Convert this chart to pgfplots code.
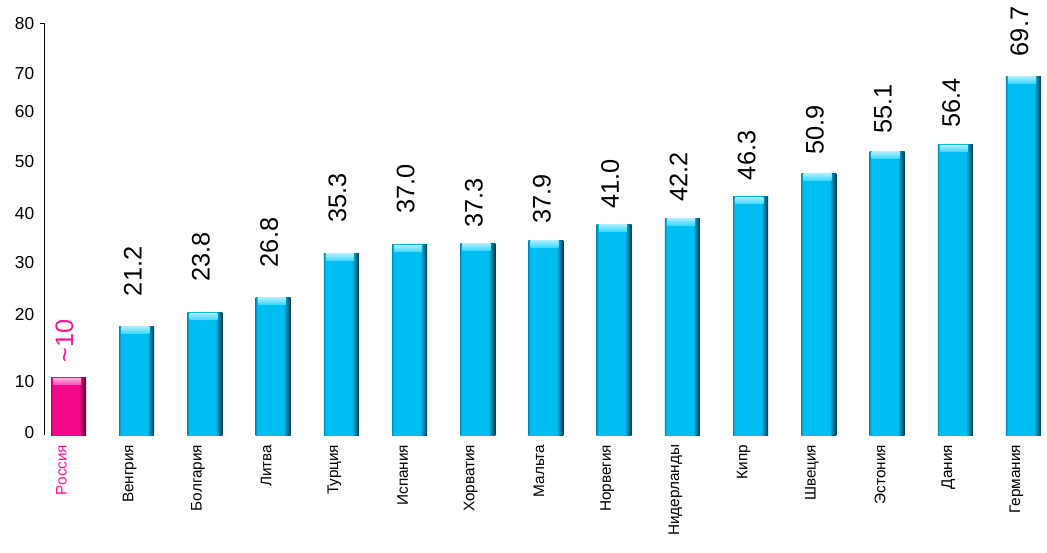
\documentclass[border=0pt]{standalone}
\usepackage{pgfplots}
\pgfplotsset{compat=1.18}
\usepackage{pgfplotstable}
\usepackage{fontspec}
\setmainfont{Liberation Sans}
\definecolor{cyanbody}{HTML}{00BEF2}
\definecolor{cyantop}{HTML}{3DD8FF}
\definecolor{cyandark}{HTML}{003A4E}
\definecolor{cyanleft}{HTML}{0090C0}
\definecolor{magbody}{HTML}{F5088A}
\definecolor{magtop}{HTML}{FF4CB0}
\definecolor{magdark}{HTML}{540030}
\definecolor{magleft}{HTML}{C0006A}
\definecolor{rustext}{HTML}{FF1493}

\pgfdeclarehorizontalshading{cyanbar}{100bp}{color(0bp)=(cyanleft); color(25bp)=(cyanleft); color(27.5bp)=(cyanbody); color(65bp)=(cyanbody); color(75bp)=(cyandark); color(100bp)=(cyandark)}
\pgfdeclarehorizontalshading{magbar}{100bp}{color(0bp)=(magleft); color(25bp)=(magleft); color(27.5bp)=(magbody); color(65bp)=(magbody); color(75bp)=(magdark); color(100bp)=(magdark)}

\tikzset{bevelband/.style={anchor=north, inner sep=0pt, rectangle, minimum width=21pt, minimum height=5pt, xshift=-1pt}}

\pgfplotstableread{
x y lab off
1 21.2 21.2 22.5
2 23.8 23.8 23.0
3 26.8 26.8 22.5
4 35.3 35.3 23.0
5 37.0 37.0 23.0
6 37.3 37.3 11.5
7 37.9 37.9 12.5
8 41.0 41.0 11.5
9 42.2 42.2 12.0
10 46.3 46.3 12.5
11 50.9 50.9 13.5
12 55.1 55.1 13.5
13 56.4 56.4 12.75
14 69.7 69.7 15.0
}\others

\pgfplotstableread{
x y
0 11.2
}\russia

\begin{document}
\begin{tikzpicture}
\path[use as bounding box] (-33.375pt,-88.125pt) rectangle (751.875pt,326.625pt);
\begin{axis}[
  at={(0,0)}, anchor=south west,
  scale only axis,
  width=751.875pt, height=309.15pt,
  xmin=-0.352, xmax=14.345,
  ymin=0, ymax=80,
  axis lines*=left,
  x axis line style={draw=none},
  y axis line style={black, line width=0.75pt},
  major tick length=0pt,
  tick style={black, line width=0.75pt},
  ybar, bar width=26.25pt,
  clip=false,
  /pgf/number format/assume math mode=true,
  xtick={0,...,14},
  xticklabels={{\color{rustext}Россия},Венгрия,Болгария,Литва,Турция,Испания,Хорватия,Мальта,Норвегия,Нидерланды,Кипр,Швеция,Эстония,Дания,Германия},
  xticklabel style={xshift=-5.25pt, yshift=-6.75pt, rotate=90, anchor=east, inner sep=0pt, font=\fontsize{11.5}{12}\selectfont},
  ytick={0.5,10.4,23.5,33.5,43.1,53.1,62.8,70.2,80},
  yticklabels={0,10,20,30,40,50,60,70,80},
  yticklabel style={anchor=east, inner sep=0pt, xshift=-7.5pt, font=\fontsize{13}{14}\selectfont},
  extra y ticks={80},
  extra y tick labels={},
  extra y tick style={major tick length=3.5pt, tick align=outside},
]
\addplot[draw=none, shading=magbar, bar shift=0pt,
  nodes near coords={\textasciitilde10},
  every node near coord/.append style={yshift=11.25pt, xshift=-3pt, rotate=90, anchor=west, inner sep=0pt, text=rustext, font=\fontsize{19}{20}\selectfont}]
  table[x=x,y=y] {\russia};
\pgfplotsinvokeforeach{1,...,14}{
\addplot[draw=none, shading=cyanbar, bar shift=0pt,
  x filter/.expression={x==#1 ? x : nan},
  point meta=explicit symbolic,
  visualization depends on={\thisrow{off}\as\off},
  nodes near coords,
  every node near coord/.append style={yshift=\off pt, xshift=-3pt, rotate=90, anchor=west, inner sep=0pt, text=black, font=\fontsize{19}{20}\selectfont}]
  table[x=x,y=y,meta=lab] {\others};
}
% top bevel bands on the same bars
\addplot[draw=none, fill=none, bar shift=0pt,
  nodes near coords={},
  every node near coord/.append style={bevelband, top color=magtop!45!white, bottom color=magtop}]
  table[x=x,y=y] {\russia};
\addplot[draw=none, fill=none, bar shift=0pt,
  nodes near coords={},
  every node near coord/.append style={bevelband, top color=cyantop!45!white, bottom color=cyantop}]
  table[x=x,y=y] {\others};
\end{axis}
\end{tikzpicture}
\end{document}
